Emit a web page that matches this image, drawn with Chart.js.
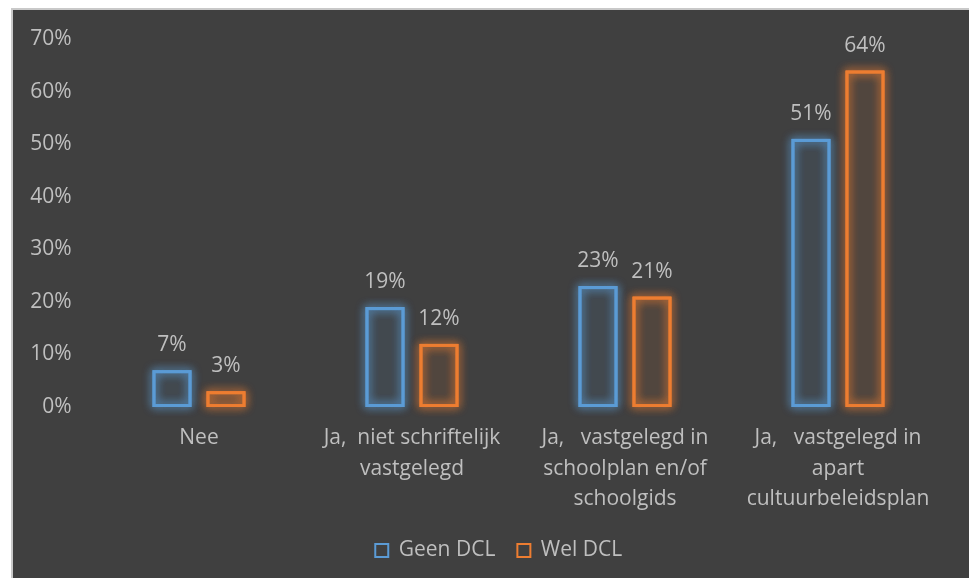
<!DOCTYPE html>
<html>
<head>
<meta charset="utf-8">
<script src="https://cdn.jsdelivr.net/npm/chart.js@4/dist/chart.umd.min.js"></script>
<style>
  html, body { margin: 0; padding: 0; background: #ffffff; width: 969px; height: 578px; overflow: hidden; }
  #wrap { position: absolute; left: 11px; top: 8px; width: 958px; height: 570px; border-left: 2px solid #c9c9c9; border-top: 2px solid #c9c9c9; background: #404040; }
  #c { display: block; }
</style>
</head>
<body>
<div id="wrap"><canvas id="c" width="956" height="568"></canvas></div>
<script>
const categories = [
  "Nee",
  ["Ja,  niet schriftelijk", "vastgelegd"],
  ["Ja,   vastgelegd in", "schoolplan en/of", "schoolgids"],
  ["Ja,   vastgelegd in", "apart", "cultuurbeleidsplan"]
];
const seriesNames = ["Geen DCL", "Wel DCL"];
const geenDCL = [0.07, 0.19, 0.23, 0.51];
const welDCL = [0.03, 0.12, 0.21, 0.64];
const yTicks = [0, 0.1, 0.2, 0.3, 0.4, 0.5, 0.6, 0.7];

const colors = ["#5B9BD5", "#ED7D31"];
const glowColors = ["rgba(91,155,213,0.9)", "rgba(237,125,49,0.9)"];
const textColor = "#bfbfbf";
const fontFamily = "'Open Sans', Lato, sans-serif";
const fontSize = 21;

const glowPlugin = {
  id: 'glow',
  afterLayout(chart) {
    if (chart.legend) { chart.legend.left += 20; chart.legend.right += 20; }
  },
  beforeDatasetsDraw(chart) {
    const ctx = chart.ctx;
    chart.data.datasets.forEach((ds, i) => {
      const meta = chart.getDatasetMeta(i);
      meta.data.forEach(el => {
        const p = el.getProps(['x', 'y', 'base', 'width'], true);
        const left = p.x - p.width / 2, top = Math.min(p.y, p.base), h = Math.abs(p.base - p.y);
        ctx.save();
        ctx.shadowColor = glowColors[i];
        ctx.shadowBlur = 10;
        ctx.strokeStyle = glowColors[i];
        ctx.lineWidth = 3;
        ctx.strokeRect(left + 1.5, top + 1.5, p.width - 3, h - 3);
        ctx.strokeRect(left + 1.5, top + 1.5, p.width - 3, h - 3);
        ctx.restore();
      });
    });
  }
};

const labelPlugin = {
  id: 'valueLabels',
  afterDatasetsDraw(chart) {
    const ctx = chart.ctx;
    ctx.save();
    ctx.font = fontSize + "px " + fontFamily;
    ctx.fillStyle = textColor;
    ctx.textAlign = "center";
    ctx.textBaseline = "middle";
    chart.data.datasets.forEach((ds, i) => {
      const meta = chart.getDatasetMeta(i);
      meta.data.forEach((el, j) => {
        const v = ds.data[j];
        ctx.fillText(Math.round(v * 100) + "%", el.x, el.y - 25);
      });
    });
    ctx.restore();
  }
};

new Chart(document.getElementById('c'), {
  type: 'bar',
  data: {
    labels: categories,
    datasets: [
      { label: seriesNames[0], data: geenDCL, backgroundColor: "rgba(91,155,213,0.10)", borderColor: colors[0], borderWidth: 2.5, borderSkipped: false, barPercentage: 0.722, categoryPercentage: 0.507 },
      { label: seriesNames[1], data: welDCL, backgroundColor: "rgba(237,125,49,0.10)", borderColor: colors[1], borderWidth: 2.5, borderSkipped: false, barPercentage: 0.722, categoryPercentage: 0.507 }
    ]
  },
  options: {
    responsive: false,
    animation: false,
    devicePixelRatio: 1,
    layout: { padding: { top: 29, right: 24.5, bottom: 7, left: 0 } },
    plugins: {
      legend: {
        position: 'bottom',
        labels: {
          color: textColor,
          font: { family: fontFamily, size: fontSize },
          boxWidth: 13,
          boxHeight: 13,
          padding: 22,
          generateLabels(chart) {
            return chart.data.datasets.map((ds, i) => ({
              text: ds.label,
              fillStyle: 'rgba(0,0,0,0)',
              strokeStyle: colors[i],
              lineWidth: 2,
              fontColor: textColor,
              datasetIndex: i,
              hidden: false
            }));
          }
        }
      },
      tooltip: { enabled: false }
    },
    scales: {
      x: {
        grid: { display: false, drawTicks: false },
        border: { display: false },
        ticks: { color: textColor, font: { family: fontFamily, size: fontSize, lineHeight: 1.45 }, padding: 16, maxRotation: 0, autoSkip: false },
        afterFit(scale) { scale.height = 111; }
      },
      y: {
        min: 0,
        max: 0.7,
        grid: { display: false, drawTicks: false },
        border: { display: false },
        afterBuildTicks(scale) { scale.ticks = yTicks.map(v => ({ value: v })); },
        ticks: {
          color: textColor,
          font: { family: fontFamily, size: fontSize },
          padding: 21,
          callback: v => Math.round(v * 100) + "%"
        },
        afterFit(scale) { scale.width = 79.5; scale.paddingTop = 10; scale.paddingBottom = 10; }
      }
    }
  },
  plugins: [glowPlugin, labelPlugin]
});
</script>
</body>
</html>
